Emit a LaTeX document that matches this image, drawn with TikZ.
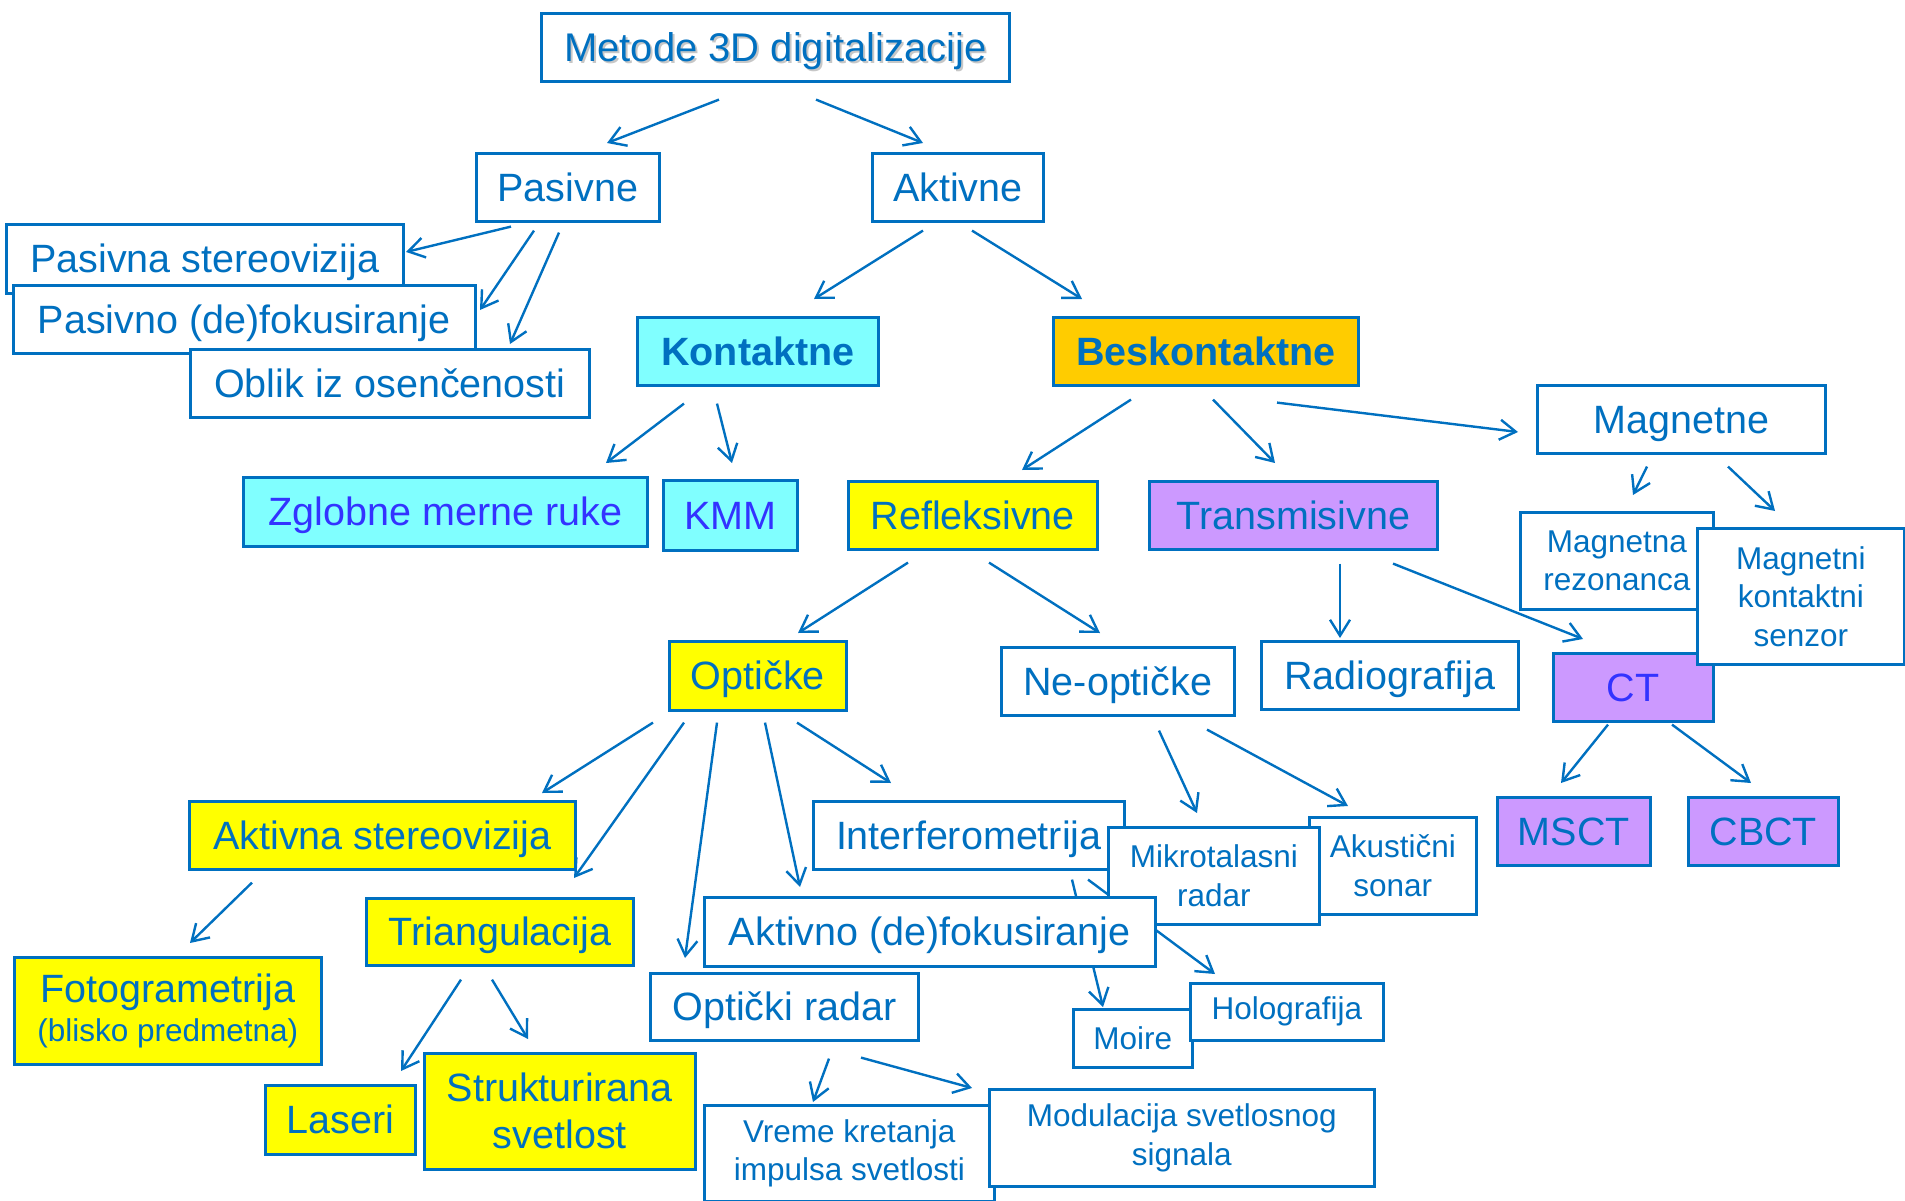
\documentclass[tikz,border=0pt]{standalone}
\usepackage{fontspec}
\setmainfont{Liberation Sans}
\usetikzlibrary{arrows.meta,calc}
\definecolor{bl}{HTML}{0070C0}
\definecolor{vio}{HTML}{3333FF}
\definecolor{cyanf}{HTML}{80FFFF}
\definecolor{orangef}{HTML}{FFCC00}
\definecolor{yellowf}{HTML}{FFFF00}
\definecolor{purplef}{HTML}{CC99FF}
\newcommand\bigf{\fontsize{39.5}{47}\selectfont}
\newcommand\smallf{\fontsize{31.5}{38.5}\selectfont}
\tikzset{
  box/.style={draw=bl, line width=2.6pt, fill=white, inner sep=0pt, anchor=north west,
    text=bl, font=\bigf, text height=28pt, text depth=0pt},
  mbox/.style={draw=bl, line width=2.6pt, fill=white, inner sep=0pt, anchor=north west,
    text=bl, font=\smallf, align=center},
  cy/.style={fill=cyanf},
  og/.style={fill=orangef},
  yw/.style={fill=yellowf},
  pp/.style={fill=purplef},
  arr/.style={draw=bl, line width=2.4pt, -{Straight Barb[length=16pt,width=20pt]}},
}
% box: style, name, left, top, width, height, text
\newcommand\bx[7][box]{\node[#1,minimum width=#5pt,minimum height=#6pt] (#2) at (#3,#4) {#7};}
% invisible placeholder of a box, so connectors can be drawn beneath the boxes
\newcommand\gh[5]{\node[box,draw=none,fill=none,minimum width=#4pt,minimum height=#5pt] (#1) at (#2,#3) {};}
\begin{document}
\begin{tikzpicture}[x=1pt,y=-1pt]
\useasboundingbox (0,0) rectangle (1905,1201);

\gh{metode}{540}{12}{468}{68}
\gh{pasivne}{475}{152}{183}{68}
\gh{aktivne}{871}{152}{171}{68}
\gh{pstereo}{5}{223}{397}{69}
\gh{pdefok}{12}{284}{462}{68}
\gh{oblik}{189}{348}{399}{68}
\gh{kontaktne}{636}{316}{241}{68}
\gh{beskontaktne}{1052}{316}{305}{68}
\gh{magnetne}{1536}{384}{288}{68}
\gh{zglobne}{242}{476}{404}{69}
\gh{kmm}{662}{479}{134}{70}
\gh{refleksivne}{847}{480}{249}{68}
\gh{transmisivne}{1148}{480}{288}{68}
\gh{magrez}{1519}{511}{193}{97}
\gh{magkont}{1696}{527}{207}{136}
\gh{opticke}{668}{640}{177}{69}
\gh{neopticke}{1000}{646}{233}{68}
\gh{radiografija}{1260}{640}{257}{68}
\gh{ct}{1552}{652}{160}{68}
\gh{msct}{1496}{796}{153}{68}
\gh{cbct}{1687}{796}{150}{68}
\gh{astereo}{188}{800}{386}{68}
\gh{interf}{812}{800}{311}{68}
\gh{triang}{365}{897}{267}{67}
\gh{adefok}{703}{896}{451}{69}
\gh{mikro}{1107}{826}{211}{97}
\gh{akust}{1308}{816}{167}{97}
\gh{foto}{13}{956}{307}{107}
\gh{laseri}{264}{1084}{150}{69}
\gh{strukt}{423}{1052}{271}{116}
\gh{oradar}{649}{972}{268}{67}
\gh{moire}{1072}{1008}{119}{58}
\gh{holo}{1189}{982}{193}{57}
\gh{vreme}{703}{1104}{290}{96}
\gh{modul}{988}{1088}{385}{97}

% connectors
\draw[arr] ([shift={(179,17)}]metode.south west) -- ([shift={(132,-9)}]pasivne.north west);
\draw[arr] ([shift={(276,17)}]metode.south west) -- ([shift={(52,-9)}]aktivne.north west);
\draw[arr] ([shift={(36,4)}]pasivne.south west) -- ([shift={(401,29)}]pstereo.north west);
\draw[arr] ([shift={(59,8)}]pasivne.south west) -- ([shift={(468,26)}]pdefok.north west);
\draw[arr] ([shift={(84,10)}]pasivne.south west) -- ([shift={(321,-4)}]oblik.north west);
\draw[arr] ([shift={(52,8)}]aktivne.south west) -- ([shift={(178,-17)}]kontaktne.north west);
\draw[arr] ([shift={(101,8)}]aktivne.south west) -- ([shift={(30,-17)}]beskontaktne.north west);
\draw[arr] ([shift={(48,17)}]kontaktne.south west) -- ([shift={(364,-13)}]zglobne.north west);
\draw[arr] ([shift={(81,17)}]kontaktne.south west) -- ([shift={(70,-16)}]kmm.north west);
\draw[arr] ([shift={(79,13)}]beskontaktne.south west) -- ([shift={(175,-10)}]refleksivne.north west);
\draw[arr] ([shift={(161,13)}]beskontaktne.south west) -- ([shift={(127,-17)}]transmisivne.north west);
\draw[arr] ([shift={(225,16)}]beskontaktne.south west) -- ([shift={(-18,48)}]magnetne.north west);
\draw[arr] ([shift={(111,12)}]magnetne.south west) -- ([shift={(114,-16)}]magrez.north west);
\draw[arr] ([shift={(192,12)}]magnetne.south west) -- ([shift={(79,-16)}]magkont.north west);
\draw[arr] ([shift={(61,12)}]refleksivne.south west) -- ([shift={(130,-7)}]opticke.north west);
\draw[arr] ([shift={(142,12)}]refleksivne.south west) -- ([shift={(100,-13)}]neopticke.north west);
\draw[arr] ([shift={(192,13)}]transmisivne.south west) -- ([shift={(80,-2)}]radiografija.north west);
\draw[arr] ([shift={(245,13)}]transmisivne.south west) -- ([shift={(31,-13)}]ct.north west);
\draw[arr] ([shift={(56,2)}]ct.south west) -- ([shift={(65,-13)}]msct.north west);
\draw[arr] ([shift={(120,2)}]ct.south west) -- ([shift={(64,-13)}]cbct.north west);
\draw[arr] ([shift={(159,14)}]neopticke.south west) -- ([shift={(90,-13)}]mikro.north west);
\draw[arr] ([shift={(207,13)}]neopticke.south west) -- ([shift={(40,-10)}]akust.north west);
\draw[arr] ([shift={(-15,11)}]opticke.south west) -- ([shift={(354,-7)}]astereo.north west);
\draw[arr] ([shift={(16,11)}]opticke.south west) -- ([shift={(209,-19)}]triang.north west);
\draw[arr] ([shift={(49,11)}]opticke.south west) -- ([shift={(36,-14)}]oradar.north west);
\draw[arr] ([shift={(97,11)}]opticke.south west) -- ([shift={(97,-9)}]adefok.north west);
\draw[arr] ([shift={(129,11)}]opticke.south west) -- ([shift={(79,-17)}]interf.north west);
\draw[arr] ([shift={(64,12)}]astereo.south west) -- ([shift={(177,-13)}]foto.north west);
\draw[arr] ([shift={(96,13)}]triang.south west) -- ([shift={(137,-13)}]laseri.north west);
\draw[arr] ([shift={(127,13)}]triang.south west) -- ([shift={(105,-13)}]strukt.north west);
\draw[arr] ([shift={(260,9)}]interf.south west) -- ([shift={(31,-1)}]moire.north west);
\draw[arr] ([shift={(276,9)}]interf.south west) -- ([shift={(26,-8)}]holo.north west);
\draw[arr] ([shift={(180,17)}]oradar.south west) -- ([shift={(110,-2)}]vreme.north west);
\draw[arr] ([shift={(212,16)}]oradar.south west) -- ([shift={(-16,0)}]modul.north west);

% boxes, in stacking order
\bx{metode}{540}{12}{468}{68}{}
\node[text=black!22, font=\fontsize{40}{48}\selectfont, text height=28.6pt, text depth=0pt, inner sep=0pt]
  (titleshadow) at ($(metode.center)+(2,2)$) {Metode 3D digitalizacije};
\node[text=bl, font=\fontsize{40}{48}\selectfont, text height=28.6pt, text depth=0pt, inner sep=0pt]
  (titletext) at (metode.center) {Metode 3D digitalizacije};
\bx{pasivne}{475}{152}{183}{68}{Pasivne}
\bx{aktivne}{871}{152}{171}{68}{Aktivne}
\bx{pstereo}{5}{223}{397}{69}{Pasivna stereovizija}
\bx{pdefok}{12}{284}{462}{68}{Pasivno (de)fokusiranje}
\bx{oblik}{189}{348}{399}{68}{Oblik iz osenčenosti}
\bx[box,cy,font=\bigf\bfseries]{kontaktne}{636}{316}{241}{68}{Kontaktne}
\bx[box,og,font=\bigf\bfseries]{beskontaktne}{1052}{316}{305}{68}{Beskontaktne}
\bx{magnetne}{1536}{384}{288}{68}{Magnetne}
\bx[box,cy,text=vio]{zglobne}{242}{476}{404}{69}{Zglobne merne ruke}
\bx[box,cy,text=vio]{kmm}{662}{479}{134}{70}{KMM}
\bx[box,yw]{refleksivne}{847}{480}{249}{68}{Refleksivne}
\bx[box,pp]{transmisivne}{1148}{480}{288}{68}{Transmisivne}
\bx[mbox]{magrez}{1519}{511}{193}{97}{Magnetna\\rezonanca}
\bx[box,pp,text=vio]{ct}{1552}{652}{160}{68}{CT}
\bx[mbox]{magkont}{1696}{527}{207}{136}{Magnetni\\kontaktni\\senzor}
\bx[box,yw]{opticke}{668}{640}{177}{69}{Optičke}
\bx{neopticke}{1000}{646}{233}{68}{Ne-optičke}
\bx{radiografija}{1260}{640}{257}{68}{Radiografija}
\bx[box,pp]{msct}{1496}{796}{153}{68}{MSCT}
\bx[box,pp]{cbct}{1687}{796}{150}{68}{CBCT}
\bx[box,yw]{astereo}{188}{800}{386}{68}{Aktivna stereovizija}
\bx{interf}{812}{800}{311}{68}{Interferometrija}
\bx[mbox]{akust}{1308}{816}{167}{97}{Akustični\\sonar}
\bx[mbox]{mikro}{1107}{826}{211}{97}{Mikrotalasni\\radar}
\bx{adefok}{703}{896}{451}{69}{Aktivno (de)fokusiranje}
\bx[box,yw]{triang}{365}{897}{267}{67}{Triangulacija}
\bx[mbox,yw,font=\bigf,text depth=6pt]{foto}{13}{956}{307}{107}{Fotogrametrija\\[-8pt]{\smallf (blisko predmetna)}}
\bx[box,yw]{laseri}{264}{1084}{150}{69}{Laseri}
\bx[mbox,yw,font=\bigf]{strukt}{423}{1052}{271}{116}{Strukturirana\\svetlost}
\bx{oradar}{649}{972}{268}{67}{Optički radar}
\bx[mbox]{moire}{1072}{1008}{119}{58}{Moire}
\bx[mbox]{holo}{1189}{982}{193}{57}{Holografija}
\bx[mbox]{vreme}{703}{1104}{290}{96}{Vreme kretanja\\impulsa svetlosti}
\bx[mbox]{modul}{988}{1088}{385}{97}{Modulacija svetlosnog\\signala}
\end{tikzpicture}
\end{document}
